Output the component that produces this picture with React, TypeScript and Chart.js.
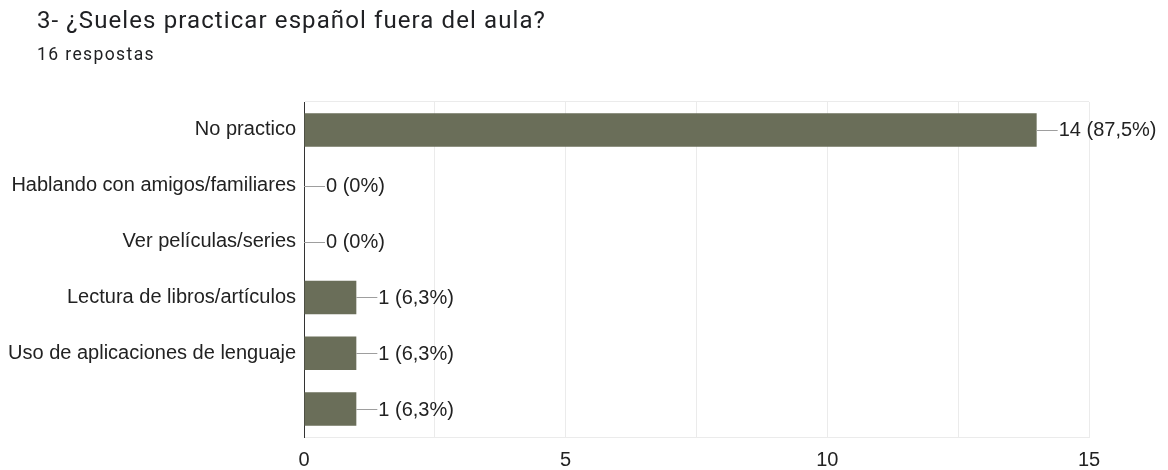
import React, { useEffect, useRef } from "react";
import { Chart, registerables } from "chart.js";

Chart.register(...registerables);

const title = "3- ¿Sueles practicar español fuera del aula?";
const subtitle = "16 respostas";
const categories = [
  "No practico",
  "Hablando con amigos/familiares",
  "Ver películas/series",
  "Lectura de libros/artículos",
  "Uso de aplicaciones de lenguaje",
  "",
];
const counts = [14, 0, 0, 1, 1, 1];
const percents = ["87,5%", "0%", "0%", "6,3%", "6,3%", "6,3%"];
const xTickLabels = [0, 5, 10, 15];

const TITLE_FONT = "Roboto, 'Noto Sans', Arial, sans-serif";
const FONT = "'Liberation Sans', Arial, sans-serif";

const valueLabels = {
  id: "valueLabels",
  afterDatasetsDraw(chart: any) {
    const ctx = chart.ctx;
    const meta = chart.getDatasetMeta(0);
    ctx.save();
    ctx.font = `20px ${FONT}`;
    ctx.textBaseline = "middle";
    ctx.textAlign = "left";
    meta.data.forEach((el: any, i: number) => {
      const x = el.x;
      const y = el.y;
      ctx.strokeStyle = "#9e9e9e";
      ctx.lineWidth = 1;
      ctx.beginPath();
      ctx.moveTo(x, Math.round(y) + 0.5);
      ctx.lineTo(x + 21, Math.round(y) + 0.5);
      ctx.stroke();
      ctx.fillStyle = "#222222";
      ctx.fillText(`${counts[i]} (${percents[i]})`, x + 22, y + 1);
    });
    ctx.restore();
  },
};

export default function App() {
  const ref = useRef<HTMLCanvasElement | null>(null);

  useEffect(() => {
    document.body.style.margin = "0";
    const canvas = ref.current!;
    const chart = new Chart(canvas, {
      type: "bar",
      data: {
        labels: categories,
        datasets: [
          {
            data: counts,
            backgroundColor: "#6a6e59",
            borderWidth: 0,
            barPercentage: 0.6,
            categoryPercentage: 1,
          },
        ],
      },
      plugins: [valueLabels],
      options: {
        indexAxis: "y",
        animation: false,
        responsive: false,
        maintainAspectRatio: false,
        layout: { padding: { top: 102, right: 79, left: 0, bottom: 0 } },
        plugins: {
          legend: { display: false },
          tooltip: { enabled: false },
        },
        scales: {
          x: {
            min: 0,
            max: 15,
            ticks: {
              stepSize: 2.5,
              padding: 11,
              color: "#222222",
              font: { family: FONT, size: 20 },
              callback: (v: any) =>
                xTickLabels.includes(Number(v)) ? String(v) : "",
              maxRotation: 0,
              autoSkip: false,
            },
            grid: { color: "#ebebeb", drawTicks: false, lineWidth: 1 },
            border: { display: true, color: "#ebebeb", width: 1 },
            afterFit: (scale: any) => {
              scale.height = 33;
            },
          },
          y: {
            ticks: {
              padding: 8,
              color: "#222222",
              font: { family: FONT, size: 20 },
              autoSkip: false,
            },
            grid: {
              drawTicks: false,
              color: (c: any) =>
                c.index === 0 || c.index === categories.length
                  ? "#ebebeb"
                  : "rgba(0,0,0,0)",
            },
            border: { display: true, color: "#333333", width: 1 },
            afterFit: (scale: any) => {
              scale.width = 304;
            },
          },
        },
      },
    });
    return () => chart.destroy();
  }, []);

  return (
    <div
      style={{
        position: "relative",
        width: 1168,
        height: 470,
        background: "#ffffff",
        fontFamily: TITLE_FONT,
      }}
    >
      <canvas
        ref={ref}
        width={1168}
        height={470}
        style={{ position: "absolute", left: 0, top: 0, width: 1168, height: 470 }}
      />
      <div
        style={{
          position: "absolute",
          left: 37,
          top: 6,
          fontSize: 24,
          letterSpacing: "1.1px",
          color: "#202124",
          whiteSpace: "nowrap",
          lineHeight: "28px",
        }}
      >
        {title}
      </div>
      <div
        style={{
          position: "absolute",
          left: 37,
          top: 44,
          fontSize: 17.5,
          letterSpacing: "1.4px",
          color: "#202124",
          whiteSpace: "nowrap",
          lineHeight: "20px",
        }}
      >
        {subtitle}
      </div>
    </div>
  );
}
